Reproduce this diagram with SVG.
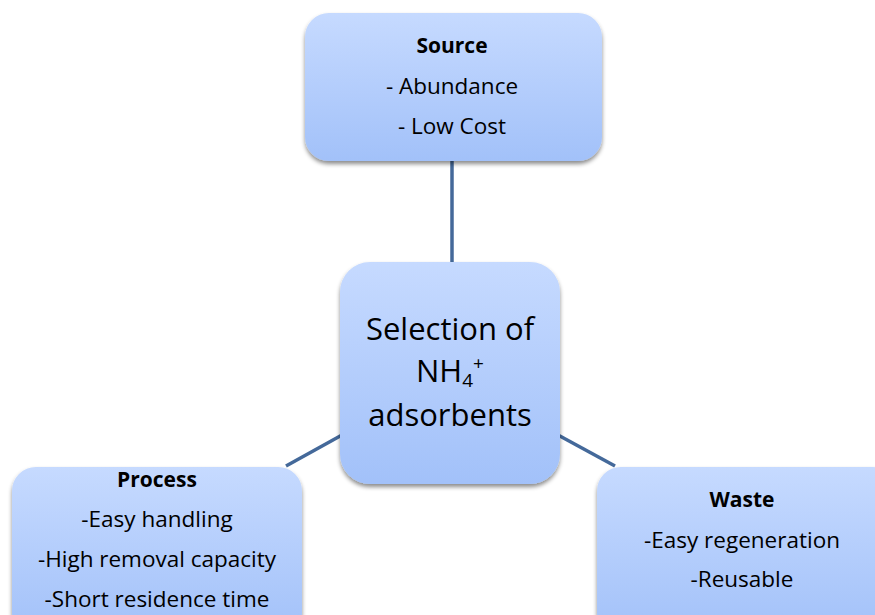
<svg xmlns="http://www.w3.org/2000/svg" width="875" height="615" viewBox="0 0 875 615">
  <defs>
    <linearGradient id="boxFill" x1="0" y1="0" x2="0" y2="1">
      <stop offset="0" stop-color="#c6daff"/>
      <stop offset="1" stop-color="#a2c1f9"/>
    </linearGradient>
    <filter id="shadow" x="-10%" y="-10%" width="120%" height="130%">
      <feDropShadow dx="0" dy="3" stdDeviation="2" flood-color="#000" flood-opacity="0.45"/>
    </filter>
  </defs>
  <style>
    .box { fill: url(#boxFill); filter: url(#shadow); }
    .link { stroke: #44699a; stroke-width: 3.5; fill: none; }
    text { font-family: "Open Sans", "Liberation Sans", sans-serif; fill: #000; text-anchor: middle; }
    .head { font-weight: bold; font-size: 21px; }
    .item { font-size: 22.5px; }
    .main { font-size: 31px; }
  </style>
  <rect width="875" height="615" fill="#fff"/>

  <g id="connectors">
    <line class="link" x1="452" y1="160" x2="452" y2="264"/>
    <line class="link" x1="286" y1="466" x2="342" y2="435"/>
    <line class="link" x1="558" y1="435" x2="615" y2="466"/>
  </g>

  <g id="source">
    <rect class="box" x="305" y="13" width="297" height="148" rx="24"/>
    <text class="head" x="452" y="53">Source</text>
    <text class="item" x="452" y="94">- Abundance</text>
    <text class="item" x="452" y="134">- Low Cost</text>
  </g>

  <g id="center">
    <rect class="box" x="340" y="262" width="220" height="222" rx="30"/>
    <text class="main" x="450" y="340">Selection of</text>
    <text class="main" x="450" y="382">NH<tspan font-size="19" dy="5">4</tspan><tspan font-size="19" dy="-17">+</tspan></text>
    <text class="main" x="450" y="426">adsorbents</text>
  </g>

  <g id="process">
    <rect class="box" x="12" y="467" width="290" height="170" rx="24"/>
    <text class="head" x="157" y="487">Process</text>
    <text class="item" x="157" y="527">-Easy handling</text>
    <text class="item" x="157" y="567">-High removal capacity</text>
    <text class="item" x="157" y="607">-Short residence time</text>
  </g>

  <g id="waste">
    <rect class="box" x="597" y="467" width="300" height="170" rx="24"/>
    <text class="head" x="742" y="507">Waste</text>
    <text class="item" x="742" y="548">-Easy regeneration</text>
    <text class="item" x="742" y="587">-Reusable</text>
  </g>
</svg>
